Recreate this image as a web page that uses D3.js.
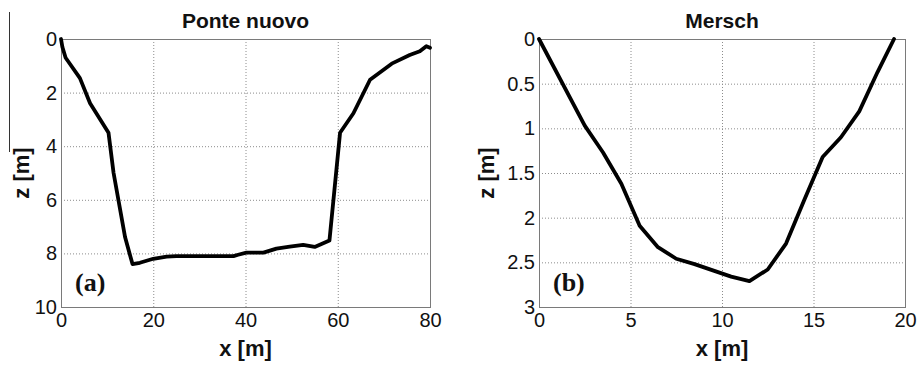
<!DOCTYPE html>
<html>
<head>
<meta charset="utf-8">
<script src="https://cdn.jsdelivr.net/npm/d3@7"></script>
<style>
  body { margin: 0; background: #fff; }
</style>
</head>
<body>
<svg id="chart" width="917" height="365"></svg>
<script>
// Cross-section of Ponte nuovo: distance across (m) and depth below bank (m)
const ponteX = [0, 0.3, 1, 4.1, 6.3, 10.3, 11.4, 13.9, 15.5, 17.1, 20, 22.9, 25, 30, 37.4, 38.4, 40.2, 43.9, 46.7, 49.6, 52.5, 55, 58.2, 60.5, 63.4, 67, 71.7, 75.6, 77.8, 79.2, 80];
const ponteZ = [0, 0.3, 0.7, 1.46, 2.4, 3.5, 5.0, 7.4, 8.4, 8.35, 8.2, 8.12, 8.1, 8.1, 8.1, 8.05, 7.97, 7.97, 7.82, 7.75, 7.68, 7.76, 7.52, 3.5, 2.77, 1.52, 0.92, 0.6, 0.46, 0.27, 0.33];

// Cross-section of Mersch
const merschX = [0, 2.5, 3.5, 4.5, 5.5, 6.5, 7.5, 8.5, 9.5, 10.5, 11.5, 12.5, 13.5, 14.5, 15.5, 16.5, 17.5, 18.5, 19.4];
const merschZ = [0, 0.97, 1.27, 1.62, 2.09, 2.33, 2.46, 2.52, 2.59, 2.66, 2.71, 2.58, 2.29, 1.8, 1.32, 1.1, 0.81, 0.37, 0];

const ponteXTicks = [0, 20, 40, 60, 80];
const ponteZTicks = [0, 2, 4, 6, 8, 10];
const merschXTicks = [0, 5, 10, 15, 20];
const merschZTicks = [0, 0.5, 1, 1.5, 2, 2.5, 3];

const panelTitles = ["Ponte nuovo", "Mersch"];
const panelTags = ["(a)", "(b)"];
const xLabel = "x [m]";
const zLabel = "z [m]";

const SANS = "'Liberation Sans', Arial, sans-serif";
const SERIF = "'Liberation Serif', 'Times New Roman', serif";

const svg = d3.select("#chart");
svg.append("rect").attr("width", 917).attr("height", 365).attr("fill", "#fff");

// thin rule at the far left edge
svg.append("line")
  .attr("x1", 9.5).attr("x2", 9.5).attr("y1", 12).attr("y2", 152)
  .attr("stroke", "#333").attr("stroke-width", 1);

const panels = [
  { box: { left: 61, right: 430, top: 39, bottom: 307 }, xs: ponteX, zs: ponteZ,
    xDom: [0, 80], zDom: [0, 10], xTicks: ponteXTicks, zTicks: ponteZTicks,
    title: panelTitles[0], tag: panelTags[0], zLabelX: 29 },
  { box: { left: 539, right: 905, top: 39, bottom: 307 }, xs: merschX, zs: merschZ,
    xDom: [0, 20], zDom: [0, 3], xTicks: merschXTicks, zTicks: merschZTicks,
    title: panelTitles[1], tag: panelTags[1], zLabelX: 494 }
];

panels.forEach(p => {
  const b = p.box;
  const x = d3.scaleLinear().domain(p.xDom).range([b.left, b.right]);
  const y = d3.scaleLinear().domain(p.zDom).range([b.top, b.bottom]);
  const w = b.right - b.left, h = b.bottom - b.top;

  // dotted grid
  const gx = svg.append("g").attr("transform", `translate(0,${b.bottom})`)
    .call(d3.axisBottom(x).tickValues(p.xTicks).tickSize(-h).tickFormat(""));
  const gy = svg.append("g").attr("transform", `translate(${b.left},0)`)
    .call(d3.axisLeft(y).tickValues(p.zTicks).tickSize(-w).tickFormat(""));
  [gx, gy].forEach(g => {
    g.select(".domain").remove();
    g.selectAll(".tick line")
      .style("stroke", "#8c8c8c").style("stroke-width", "1px")
      .style("stroke-dasharray", "1,2");
  });

  // frame
  svg.append("rect")
    .attr("x", b.left + 0.5).attr("y", b.top + 0.5).attr("width", w).attr("height", h)
    .style("fill", "none").style("stroke", "#7a7a7a").style("stroke-width", "1px");

  // tick labels
  const ax = svg.append("g").attr("transform", `translate(0,${b.bottom})`)
    .call(d3.axisBottom(x).tickValues(p.xTicks).tickSize(0).tickPadding(6)
      .tickFormat(d => String(d)));
  const ay = svg.append("g").attr("transform", `translate(${b.left},0)`)
    .call(d3.axisLeft(y).tickValues(p.zTicks).tickSize(0).tickPadding(4)
      .tickFormat(d => String(d)));
  [ax, ay].forEach(g => {
    g.select(".domain").remove();
    g.selectAll("text")
      .attr("font-family", SANS)
      .attr("font-size", 20).attr("fill", "#111");
  });

  // profile line
  const pts = p.xs.map((v, i) => [v, p.zs[i]]);
  svg.append("path")
    .datum(pts)
    .attr("d", d3.line().x(d => x(d[0])).y(d => y(d[1])))
    .attr("fill", "none").attr("stroke", "#000")
    .attr("stroke-width", 3.8).attr("stroke-linejoin", "round").attr("stroke-linecap", "round");

  // title
  svg.append("text")
    .attr("x", (b.left + b.right) / 2).attr("y", 28)
    .attr("text-anchor", "middle").attr("font-family", SANS)
    .attr("font-weight", "bold").attr("font-size", 21)
    .attr("fill", "#111").text(p.title);

  // axis labels
  svg.append("text")
    .attr("x", (b.left + b.right) / 2).attr("y", 356)
    .attr("text-anchor", "middle").attr("font-family", SANS)
    .attr("font-weight", "bold").attr("font-size", 22)
    .attr("fill", "#111").text(xLabel);
  svg.append("text")
    .attr("transform", `translate(${p.zLabelX},${(b.top + b.bottom) / 2}) rotate(-90)`)
    .attr("text-anchor", "middle").attr("font-family", SANS)
    .attr("font-weight", "bold").attr("font-size", 22)
    .attr("fill", "#111").text(zLabel);

  // panel tag
  svg.append("text")
    .attr("x", b.left + 14).attr("y", 291)
    .attr("font-family", SERIF)
    .attr("font-weight", "bold").attr("font-size", 26)
    .attr("fill", "#111").text(p.tag);
});
</script>
</body>
</html>
